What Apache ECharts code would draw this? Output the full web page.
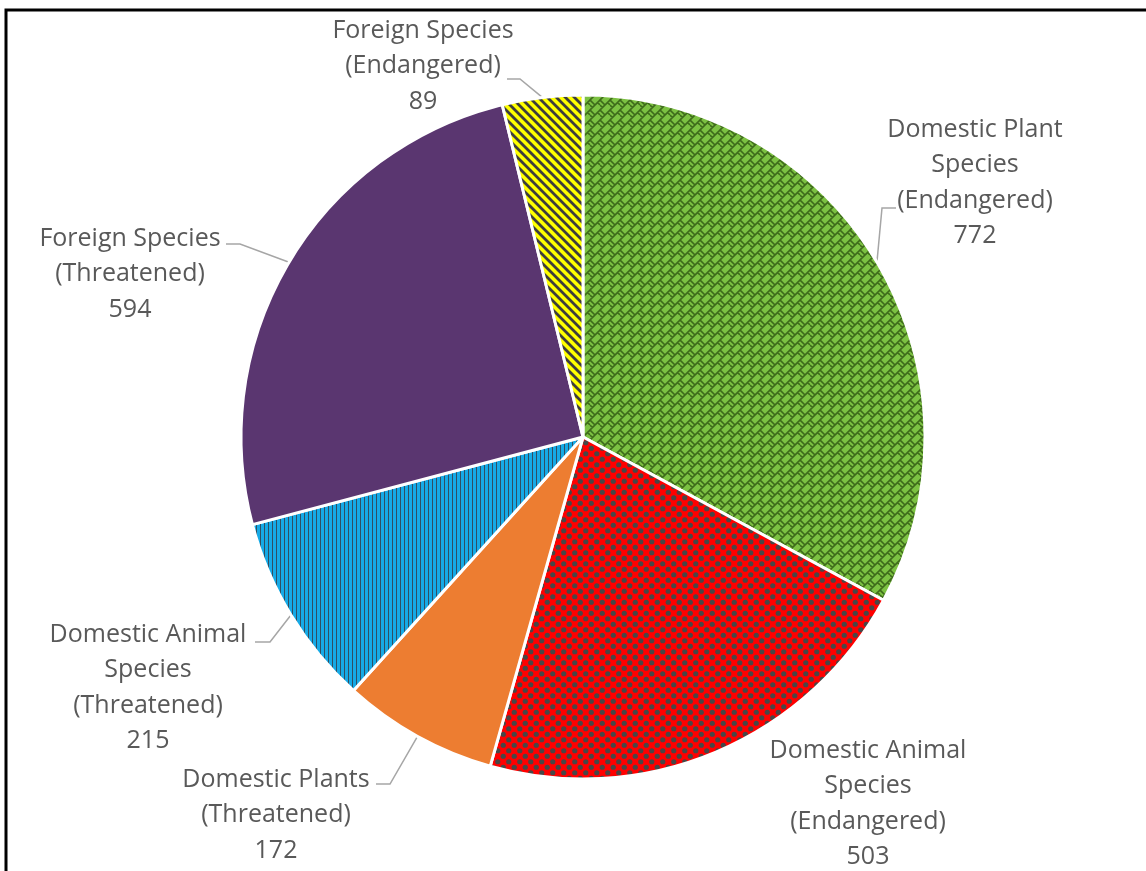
<!DOCTYPE html>
<html>
<head>
<meta charset="utf-8">
<style>
  html, body { margin: 0; padding: 0; background: #fff; }
  #chart { width: 1146px; height: 871px; }
</style>
<script src="https://cdn.jsdelivr.net/npm/echarts@6/dist/echarts.min.js"></script>
</head>
<body>
<div id="chart"></div>
<script>
// ---- data ----
var categories = [
  'Domestic Plant\nSpecies\n(Endangered)',
  'Domestic Animal\nSpecies\n(Endangered)',
  'Domestic Plants\n(Threatened)',
  'Domestic Animal\nSpecies\n(Threatened)',
  'Foreign Species\n(Threatened)',
  'Foreign Species\n(Endangered)'
];
var values = [772, 503, 172, 215, 594, 89];

// ---- layout (not data) ----
var CX = 583, CY = 437, R = 342;
var labelPos = [
  { x: 975, y: 183, line: [[882, 208], [896, 208]] },
  { x: 868, y: 804, line: null },
  { x: 276, y: 815, line: [[390, 784], [376, 784]] },
  { x: 148, y: 688, line: [[270, 642], [255, 642]] },
  { x: 130, y: 274, line: [[240, 244], [226, 244]] },
  { x: 423, y: 66,  line: [[520, 79], [507, 79]] }
];

// ---- patterns ----
function mk(w, h, draw) {
  var c = document.createElement('canvas');
  c.width = w; c.height = h;
  draw(c.getContext('2d'));
  return { image: c, repeat: 'repeat' };
}
var greenPat = mk(10, 10, function (g) {
  g.fillStyle = '#7cc142'; g.fillRect(0, 0, 10, 10);
  g.strokeStyle = '#3e6a1b'; g.lineWidth = 1.6;
  g.beginPath();
  g.moveTo(-1, 11); g.lineTo(11, -1);
  g.moveTo(-1, 1); g.lineTo(1, -1);
  g.moveTo(9, 11); g.lineTo(11, 9);
  g.moveTo(0, 0); g.lineTo(5, 5);
  g.moveTo(7.5, 2.5); g.lineTo(10, 5);
  g.moveTo(0, 5); g.lineTo(2.5, 7.5);
  g.stroke();
});
var redPat = mk(11, 11, function (g) {
  g.fillStyle = '#ff0000'; g.fillRect(0, 0, 11, 11);
  g.fillStyle = '#474747';
  [[2.75, 2.75], [8.25, 8.25]].forEach(function (p) {
    g.beginPath(); g.arc(p[0], p[1], 2.6, 0, Math.PI * 2); g.fill();
  });
});
var bluePat = mk(4, 4, function (g) {
  g.fillStyle = '#16aae6'; g.fillRect(0, 0, 4, 4);
  g.fillStyle = '#2f4f63'; g.fillRect(0, 0, 1, 4);
});
var yellowPat = mk(9, 9, function (g) {
  g.fillStyle = '#ffff00'; g.fillRect(0, 0, 9, 9);
  g.strokeStyle = '#3d3d3d'; g.lineWidth = 2.8;
  g.beginPath();
  g.moveTo(-1, -1); g.lineTo(10, 10);
  g.moveTo(8, -1); g.lineTo(10, 1);
  g.moveTo(-1, 8); g.lineTo(1, 10);
  g.stroke();
});
var fills = [greenPat, redPat, '#ed7d31', bluePat, '#5a3670', yellowPat];

// mid-angles from values (clockwise from 12 o'clock)
var total = values.reduce(function (a, b) { return a + b; }, 0);
var mids = [], acc = 0;
values.forEach(function (v) { mids.push((acc + v / 2) / total * 2 * Math.PI); acc += v; });

var data = categories.map(function (n, i) {
  var d = { name: n, value: values[i], itemStyle: { color: fills[i] } };
  if (!labelPos[i].line) d.labelLine = { show: false };
  return d;
});

var chart = echarts.init(document.getElementById('chart'), null, { renderer: 'canvas' });
chart.setOption({
  backgroundColor: '#ffffff',
  animation: false,
  graphic: [
    { type: 'polyline', shape: { points: [[6, 871], [6, 10], [1146, 10]] },
      style: { stroke: '#000', lineWidth: 3, fill: null }, silent: true }
  ],
  series: [{
    type: 'pie',
    center: [CX, CY],
    radius: R,
    startAngle: 90,
    clockwise: true,
    avoidLabelOverlap: false,
    emphasis: { disabled: true },
    itemStyle: { borderColor: '#ffffff', borderWidth: 3 },
    label: {
      show: true,
      position: 'outside',
      formatter: '{b}\n{c}',
      fontFamily: 'Open Sans',
      fontSize: 25,
      lineHeight: 35.5,
      color: '#595959',
      align: 'center'
    },
    labelLine: { show: true, lineStyle: { color: '#a6a6a6', width: 1.5 } },
    labelLayout: function (params) {
      var i = params.dataIndex;
      var p = labelPos[i];
      var res = { x: p.x, y: p.y, align: 'center', verticalAlign: 'middle' };
      if (p.line) {
        var a = mids[i];
        var s = [CX + R * Math.sin(a), CY - R * Math.cos(a)];
        res.labelLinePoints = [s].concat(p.line);
      }
      return res;
    },
    data: data
  }]
});
</script>
</body>
</html>
